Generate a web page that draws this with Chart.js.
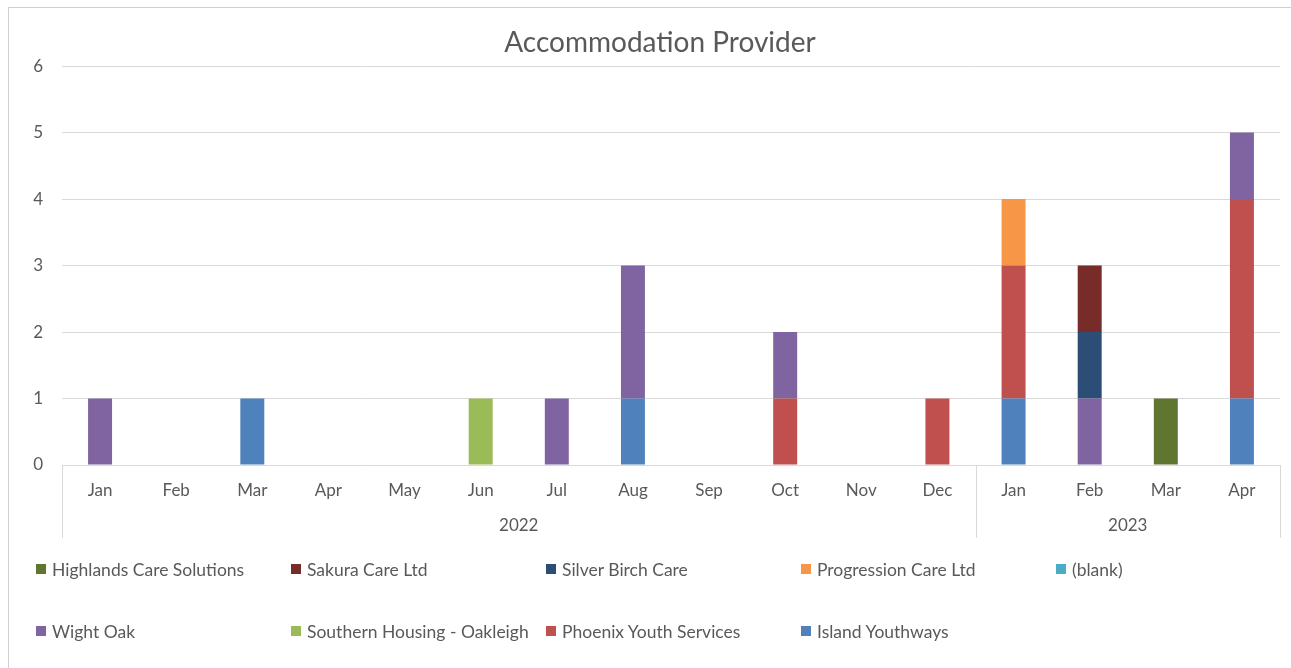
<!DOCTYPE html>
<html>
<head>
<meta charset="utf-8">
<script src="https://cdn.jsdelivr.net/npm/chart.js@4.4.1/dist/chart.umd.min.js"></script>
<style>
  html, body { margin: 0; padding: 0; background: #ffffff; }
  #wrap { position: relative; width: 1291px; height: 668px; overflow: hidden; }
  #frame { position: absolute; left: 8px; top: 7px; width: 1400px; height: 800px;
           border-top: 1px solid #d0d0d0; border-left: 1px solid #d0d0d0; pointer-events: none; }
  canvas { position: absolute; left: 0; top: 0; }
  #legend { position: absolute; left: 0; top: 0; width: 1291px; height: 668px; pointer-events: none; }
  .item { position: absolute; display: flex; align-items: center; white-space: nowrap;
          font-family: Lato, "Noto Sans", sans-serif; font-size: 17.5px; color: #595959; }
  .box { width: 10px; height: 10px; margin-right: 6px; flex: none; }
</style>
</head>
<body>
<div id="wrap">
  <canvas id="c" width="1291" height="668"></canvas>
  <div id="frame"></div>
  <div id="legend"></div>
</div>
<script>
// ---- data ----
const months = ["Jan","Feb","Mar","Apr","May","Jun","Jul","Aug","Sep","Oct","Nov","Dec","Jan","Feb","Mar","Apr"];
const years = ["2022", "2023"];
const yearSpans = [12, 4];
const yTicks = [0, 1, 2, 3, 4, 5, 6];

// series listed from bottom of stack to top
const islandYouthways      = [0,0,1,0,0,0,0,1,0,0,0,0,1,0,0,1];
const phoenixYouthServices = [0,0,0,0,0,0,0,0,0,1,0,1,2,0,0,3];
const southernHousing      = [0,0,0,0,0,1,0,0,0,0,0,0,0,0,0,0];
const wightOak             = [1,0,0,0,0,0,1,2,0,1,0,0,0,1,0,1];
const blank                = [0,0,0,0,0,0,0,0,0,0,0,0,0,0,0,0];
const progressionCare      = [0,0,0,0,0,0,0,0,0,0,0,0,1,0,0,0];
const silverBirchCare      = [0,0,0,0,0,0,0,0,0,0,0,0,0,1,0,0];
const sakuraCare           = [0,0,0,0,0,0,0,0,0,0,0,0,0,1,0,0];
const highlandsCare        = [0,0,0,0,0,0,0,0,0,0,0,0,0,0,1,0];

const seriesNames = ["Island Youthways","Phoenix Youth Services","Southern Housing - Oakleigh","Wight Oak","(blank)","Progression Care Ltd","Silver Birch Care","Sakura Care Ltd","Highlands Care Solutions"];
const seriesData = [islandYouthways, phoenixYouthServices, southernHousing, wightOak, blank, progressionCare, silverBirchCare, sakuraCare, highlandsCare];
const seriesColors = ["#4F81BD","#C0504D","#9BBB59","#8064A2","#4BACC6","#F79646","#2C4D75","#772C2A","#5F7530"];

const TXT = "#595959";
const GRID = "#d9d9d9";
const FONT = "Lato, 'Noto Sans', sans-serif";

const datasets = seriesNames.map((n, i) => ({
  label: n,
  data: seriesData[i],
  backgroundColor: seriesColors[i],
  borderWidth: 0,
  barPercentage: 0.315,
  categoryPercentage: 1.0
}));

const yearPlugin = {
  id: 'yearPlugin',
  afterLayout(chart) {
    // centre the title over the framed chart region, as in the original
    if (chart.titleBlock) { chart.titleBlock.left = 40; }
  },
  afterDraw(chart) {
    const ctx = chart.ctx;
    const xs = chart.scales.x;
    const top = chart.chartArea.bottom;
    const bottom = top + 73;
    const half = (xs.getPixelForTick(1) - xs.getPixelForTick(0)) / 2;
    ctx.save();
    ctx.strokeStyle = GRID;
    ctx.lineWidth = 1;
    let idx = 0;
    const bounds = [xs.left];
    yearSpans.forEach(s => { idx += s; bounds.push(xs.getPixelForTick(idx - 1) + half); });
    bounds.forEach(b => {
      const x = Math.round(b) + 0.5;
      ctx.beginPath(); ctx.moveTo(x, top); ctx.lineTo(x, bottom); ctx.stroke();
    });
    ctx.fillStyle = TXT;
    ctx.font = "17px " + FONT;
    ctx.textAlign = 'center';
    ctx.textBaseline = 'middle';
    years.forEach((y, i) => {
      ctx.fillText(y, (bounds[i] + bounds[i + 1]) / 2, top + 61);
    });
    ctx.restore();
  }
};

new Chart(document.getElementById('c'), {
  type: 'bar',
  data: { labels: months, datasets },
  options: {
    responsive: false,
    animation: false,
    layout: { padding: { left: 0, right: 11, top: 0, bottom: 128 } },
    plugins: {
      legend: { display: false },
      tooltip: { enabled: false },
      title: {
        display: true,
        text: 'Accommodation Provider',
        color: TXT,
        font: { family: FONT, size: 28, weight: 'normal' },
        padding: { top: 26.5, bottom: 6 }
      }
    },
    scales: {
      x: {
        stacked: true,
        offset: true,
        grid: { display: false, drawTicks: false },
        border: { display: false },
        ticks: { color: TXT, font: { family: FONT, size: 17 }, padding: 15, maxRotation: 0, autoSkip: false },
        afterFit(s) { s.height = 75; }
      },
      y: {
        stacked: true,
        min: 0, max: 6,
        afterBuildTicks(s) { s.ticks = yTicks.map(v => ({ value: v })); },
        grid: { color: GRID, lineWidth: 1, drawTicks: false },
        border: { display: false },
        ticks: { color: TXT, font: { family: FONT, size: 17 }, padding: 19, stepSize: 1 },
        afterFit(s) { s.width = 62; }
      }
    }
  },
  plugins: [yearPlugin]
});

// ---- legend (two rows, five fixed columns, Excel order) ----
const legendOrder = [8, 7, 6, 5, 4, 3, 2, 1, 0];
const leg = document.getElementById('legend');
legendOrder.forEach((si, k) => {
  const col = k % 5, row = Math.floor(k / 5);
  const d = document.createElement('div');
  d.className = 'item';
  d.style.left = (36 + col * 255) + 'px';
  d.style.top = (row === 0 ? 569 : 631) - 12 + 'px';
  d.style.height = '24px';
  const b = document.createElement('span');
  b.className = 'box';
  b.style.background = seriesColors[si];
  const t = document.createElement('span');
  t.textContent = seriesNames[si];
  d.appendChild(b); d.appendChild(t);
  leg.appendChild(d);
});
</script>
</body>
</html>
